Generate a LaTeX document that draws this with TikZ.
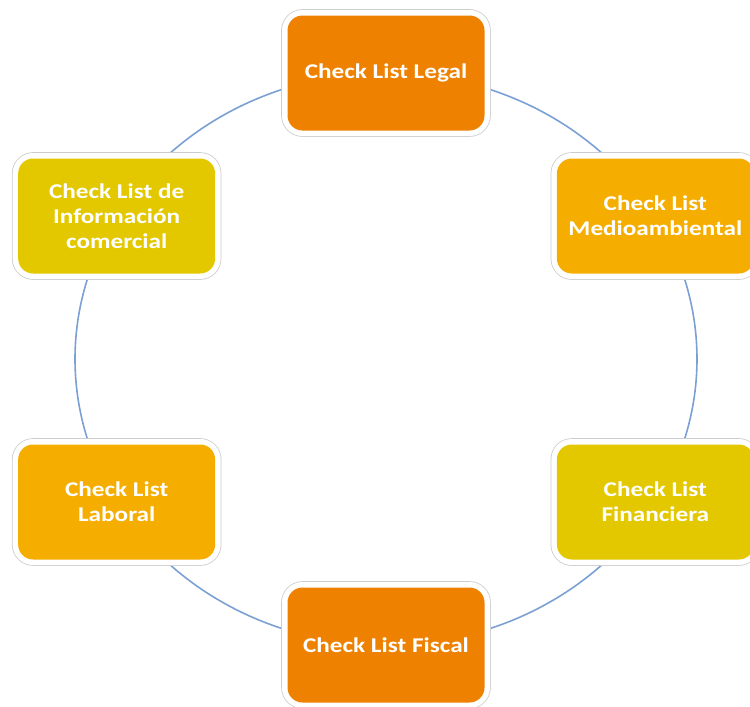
\documentclass[tikz,border=0pt]{standalone}
\usepackage{fontspec}
\newfontfamily\boxfont[FakeStretch=1.2]{Carlito}
\usetikzlibrary{backgrounds,calc}

\definecolor{darkorange}{RGB}{238,130,0}
\definecolor{midorange}{RGB}{245,173,0}
\definecolor{mustard}{RGB}{227,200,0}
\definecolor{ringblue}{RGB}{122,160,212}

\tikzstyle{checkbox}=[rounded corners=15pt, minimum width=197pt, minimum height=115pt,
  inner sep=0pt, align=center, text=white,
  font=\boxfont\bfseries\fontsize{21pt}{25pt}\selectfont,
  preaction={draw=black!20, line width=12.6pt},
  preaction={draw=white, line width=11pt}]
\tikzstyle{ring} = [draw, ringblue, line width=1.6pt]

\begin{document}
\begin{tikzpicture}[x=1pt, y=1pt]
     \useasboundingbox (0,0) rectangle (750,-707);
     \coordinate (centre) at (386,-359);
     % The six check lists around the ring
     \foreach \ang/\name/\col/\txt in {90/legal/darkorange/{Check List Legal},
       30/medio/midorange/{Check List\\Medioambiental},
       -30/financiera/mustard/{Check List\\Financiera},
       -90/fiscal/darkorange/{Check List Fiscal},
       -150/laboral/midorange/{Check List\\Laboral},
       -210/comercial/mustard/{Check List de\\Información\\comercial}}
     \node[checkbox, fill=\col] (\name) at ($(centre)+(\ang:311pt and 286pt)$) {\txt};
     % Ring arcs from box to box, kept behind the boxes
     \begin{scope}[on background layer]
     \foreach \source/\s/\e in {legal/90/30, medio/30/-30,
       financiera/-30/-90, fiscal/-90/-150,
       laboral/-150/-210, comercial/-210/-270}
     \path[ring] (\source.center) arc[start angle=\s, end angle=\e, x radius=311pt, y radius=286pt];
     \end{scope}
\end{tikzpicture}
\end{document}
